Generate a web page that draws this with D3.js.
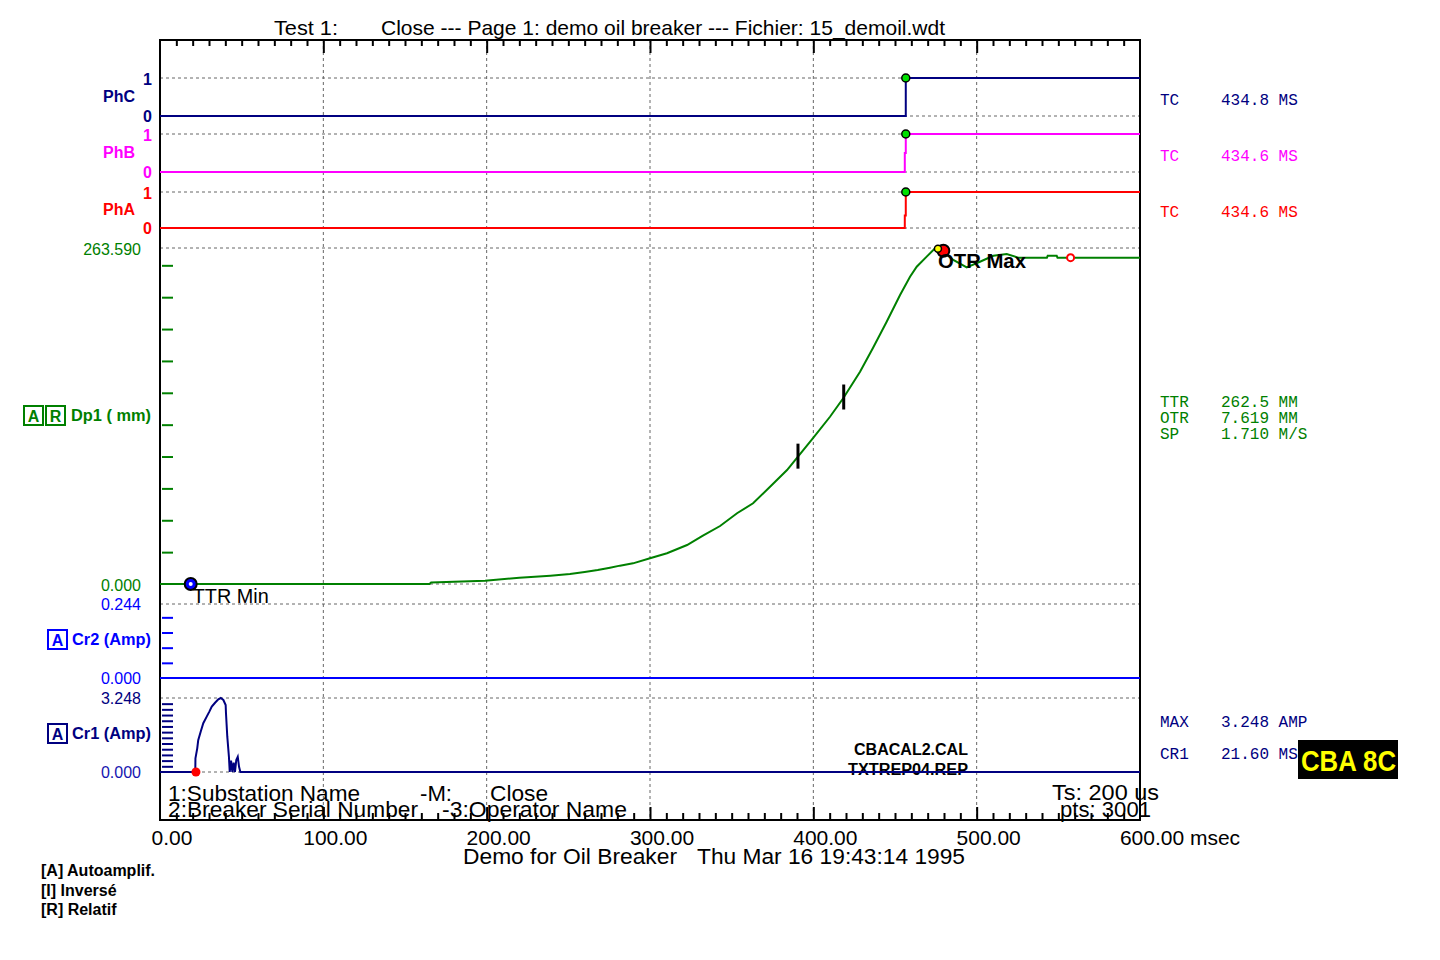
<!DOCTYPE html>
<html>
<head>
<meta charset="utf-8">
<script src="https://cdn.jsdelivr.net/npm/d3@7"></script>
<style>
  body { margin: 0; background: #fff; }
  svg { display: block; }
  text { font-family: "Liberation Sans", Arial, sans-serif; }
  .mono { font-family: "Liberation Mono", "Courier New", monospace; }
</style>
</head>
<body>
<svg id="chart" width="1440" height="960"></svg>
<script>
// Oil breaker close test - timing chart

// ---- data (time in ms) ----
const xTickValues = [0, 100, 200, 300, 400, 500, 600];
const xTickLabels = ['0.00', '100.00', '200.00', '300.00', '400.00', '500.00', '600.00'];

// contact states (0 open, 1 closed)
const phcSteps = [[0, 0], [456.6, 1], [600, 1]];
const phbSteps = [[0, 0], [456.0, 0.5], [456.6, 1], [600, 1]];
const phaSteps = [[0, 0], [456.0, 0.35], [456.6, 1], [600, 1]];

// travel Dp1 (mm)
const dp1Max = 263.59;
const dp1Points = [
  [0, 0], [165, 0], [166, 1.2], [199, 2.6], [220, 4.9], [239, 6.5], [251, 7.8],
  [260, 9.4], [268, 11.0], [275.5, 12.8], [281.6, 14.4], [289.6, 16.2], [300, 20.2],
  [310.4, 24.1], [322.7, 30.6], [332.4, 37.9], [342.9, 45.5], [353.3, 55.5],
  [363.1, 63.3], [373.5, 76.3], [383.9, 89.4], [390.6, 99.9], [399.8, 114.5],
  [410.2, 131.2], [418.3, 145.7], [428.6, 166.5], [436.5, 185.1], [444.9, 205.8],
  [453.1, 226.7], [459.2, 241.1], [463.3, 248.9], [469.4, 256.8], [474.5, 263.4],
  [477.6, 262.8], [485.7, 254.2], [493.9, 248.4], [502, 252.8], [510.2, 257.5],
  [518.4, 258.9], [525.5, 256.0], [543, 256.0], [543.5, 257.5], [549, 257.5],
  [549.5, 256.0], [600, 256.0]
];
const dp1Ticks = [25, 50, 75, 100, 125, 150, 175, 200, 225, 250];
const speedMarks = [390.6, 418.6];      // black bars on the travel curve
const ttrMinTime = 18.8;
const otrMaxTime = 476.3;
const otrPeakTime = 479.6;
const otrEndTime = 557.5;

// coil currents (A)
const cr2Max = 0.244;
const cr2Points = [[0, 0], [600, 0]];
const cr2Ticks = [0.05, 0.1, 0.15, 0.2];
const cr1Max = 3.248;
const cr1Points = [
  [0, 0], [21.6, 0], [21.7, 0.60], [22.8, 1.04], [23.4, 1.40], [24.9, 1.77],
  [26.5, 2.14], [28.6, 2.43], [30.2, 2.65], [31.7, 2.87], [33.7, 3.04],
  [35.7, 3.19], [37.2, 3.248], [38.8, 3.16], [40.2, 2.94], [40.4, 2.58],
  [41.2, 1.55], [42.2, 0.67], [42.7, 0], [43.5, 0.50], [44.3, 0], [45.1, 0.41],
  [45.9, 0], [46.7, 0.53], [47.6, 0.67], [48.4, 0.23], [49.2, 0], [600, 0]
];
const cr1Ticks = [0.25, 0.5, 0.75, 1, 1.25, 1.5, 1.75, 2, 2.25, 2.5, 2.75, 3];
const cr1Start = 22.0;

// readouts on the right
const readoutNames = ['TC', 'TC', 'TC', 'TTR', 'OTR', 'SP', 'MAX', 'CR1'];
const readoutValues = ['434.8 MS', '434.6 MS', '434.6 MS', '262.5 MM', '7.619 MM', '1.710 M/S', '3.248 AMP', '21.60 MS'];

// ---- layout ----
const svg = d3.select('#chart');
const plot = { left: 160, right: 1140, top: 40, bottom: 820 };
const navy = '#000080', magenta = '#ff00ff', red = '#ff0000', green = '#008000', blue = '#0000ff';
const gridColor = '#666';

const x = d3.scaleLinear().domain([0, 600]).range([plot.left, plot.right]);
const yPhC = d3.scaleLinear().domain([0, 1]).range([116, 78]);
const yPhB = d3.scaleLinear().domain([0, 1]).range([172, 134]);
const yPhA = d3.scaleLinear().domain([0, 1]).range([228, 192]);
const yDp1 = d3.scaleLinear().domain([0, dp1Max]).range([584, 248]);
const yCr2 = d3.scaleLinear().domain([0, cr2Max]).range([678, 604]);
const yCr1 = d3.scaleLinear().domain([0, cr1Max]).range([772, 698]);

// plain text helper; len squeezes/stretches to the width seen on screen
function label(txt, tx, ty, size, opts) {
  const o = opts || {};
  const t = svg.append('text')
    .attr('x', tx).attr('y', ty)
    .attr('font-size', size)
    .attr('font-weight', o.bold ? 'bold' : 'normal')
    .attr('fill', o.color || '#000')
    .attr('text-anchor', o.anchor || 'start')
    .attr('xml:space', 'preserve')
    .text(txt);
  if (o.len) t.attr('textLength', o.len).attr('lengthAdjust', 'spacingAndGlyphs');
  return t;
}

// ---- grid ----
const grid = svg.append('g');
[100, 200, 300, 400, 500].forEach(v => {
  grid.append('line')
    .attr('x1', x(v)).attr('x2', x(v))
    .attr('y1', plot.top).attr('y2', plot.bottom)
    .attr('stroke', gridColor).attr('stroke-width', 1)
    .attr('stroke-dasharray', '3,3');
});
const hLines = [yPhC(1), yPhC(0), yPhB(1), yPhB(0), yPhA(1), yPhA(0),
  yDp1(dp1Max), yDp1(0), yCr2(cr2Max), yCr1(cr1Max), yCr1(0)];
hLines.forEach(y => {
  grid.append('line')
    .attr('x1', plot.left).attr('x2', plot.right)
    .attr('y1', y).attr('y2', y)
    .attr('stroke', gridColor).attr('stroke-width', 1)
    .attr('stroke-dasharray', '3,3');
});

// ---- frame + time ticks ----
function timeTicks(axisFn, y, values, size) {
  svg.append('g')
    .attr('transform', `translate(0,${y})`)
    .call(axisFn(x).tickValues(values).tickSize(size).tickFormat(''))
    .call(g => g.select('.domain').remove())
    .call(g => g.selectAll('line').attr('stroke', '#000').attr('stroke-width', 2));
}
const minorT = d3.range(10, 600, 10).filter(v => v % 100 !== 0);
const majorT = [100, 200, 300, 400, 500];
timeTicks(d3.axisBottom, plot.top, minorT, 6);
timeTicks(d3.axisBottom, plot.top, majorT, 13);
timeTicks(d3.axisTop, plot.bottom, minorT, 7);
timeTicks(d3.axisTop, plot.bottom, majorT, 13);

svg.append('rect')
  .attr('x', plot.left).attr('y', plot.top)
  .attr('width', plot.right - plot.left).attr('height', plot.bottom - plot.top)
  .attr('fill', 'none').attr('stroke', '#000').attr('stroke-width', 2);

// time labels
xTickValues.forEach((v, i) => {
  const t = label(xTickLabels[i], 0, 845, 21);
  const w = t.node().getComputedTextLength();
  t.attr('x', x(v) + 12 - w / 2);
  if (i === xTickValues.length - 1) t.text(xTickLabels[i] + ' msec');
});

// ---- left value ticks ----
function valueTicks(scale, values, color) {
  svg.append('g')
    .attr('transform', `translate(${plot.left + 2},0)`)
    .call(d3.axisRight(scale).tickValues(values).tickSize(11).tickFormat(''))
    .call(g => g.select('.domain').remove())
    .call(g => g.selectAll('line').attr('stroke', color).attr('stroke-width', 2));
}
valueTicks(yDp1, dp1Ticks, green);
valueTicks(yCr2, cr2Ticks, blue);
valueTicks(yCr1, cr1Ticks, navy);

// ---- left labels ----
[[yPhC, 'PhC', navy], [yPhB, 'PhB', magenta], [yPhA, 'PhA', red]].forEach(([s, name, c]) => {
  label(name, 135, (s(0) + s(1)) / 2 + 5, 16, { bold: true, color: c, anchor: 'end' });
  label('1', 152, s(1) + 7, 16, { bold: true, color: c, anchor: 'end' });
  label('0', 152, s(0) + 6, 16, { bold: true, color: c, anchor: 'end' });
});
label('263.590', 141, yDp1(dp1Max) + 7, 16, { color: green, anchor: 'end' });
label('0.000', 141, yDp1(0) + 7, 16, { color: green, anchor: 'end' });
label('0.244', 141, yCr2(cr2Max) + 6, 16, { color: blue, anchor: 'end' });
label('0.000', 141, yCr2(0) + 6, 16, { color: blue, anchor: 'end' });
label('3.248', 141, yCr1(cr1Max) + 6, 16, { color: navy, anchor: 'end' });
label('0.000', 141, yCr1(0) + 6, 16, { color: '#1515b0', anchor: 'end' });

function boxLetter(bx, by, letter, color) {
  svg.append('rect')
    .attr('x', bx).attr('y', by).attr('width', 19).attr('height', 19)
    .attr('fill', 'none').attr('stroke', color).attr('stroke-width', 2);
  label(letter, bx + 9.5, by + 15.5, 16, { bold: true, color: color, anchor: 'middle' });
}
boxLetter(24, 406, 'A', green);
boxLetter(46, 406, 'R', green);
label('Dp1 ( mm)', 151, 421, 16, { bold: true, color: green, anchor: 'end', len: 80 });
boxLetter(48, 630, 'A', blue);
label('Cr2 (Amp)', 151, 645, 16, { bold: true, color: blue, anchor: 'end', len: 79 });
boxLetter(48, 724, 'A', navy);
label('Cr1 (Amp)', 151, 739, 16, { bold: true, color: navy, anchor: 'end', len: 79 });

// ---- header / footer texts ----
label('Test 1:', 274, 35, 21, { len: 64 });
label('Close --- Page 1: demo oil breaker --- Fichier: 15_demoil.wdt', 381, 35, 21, { len: 564 });

const footer = [
  ['1:Substation Name', 168, 801, 192], ['-M:', 420, 801, 32], ['Close', 490, 801, 58],
  ['2:Breaker Serial Number', 168, 817, 250], ['-3:Operator Name', 442, 817, 185],
  ['Ts: 200 us', 1052, 800, 107], ['pts: 3001', 1060, 817, 91]
];
footer.forEach(([t, fx, fy, w]) => label(t, fx, fy, 22, { len: w }));
label('Demo for Oil Breaker', 463, 864, 22, { len: 214 });
label('Thu Mar 16 19:43:14 1995', 697, 864, 22, { len: 268 });

label('CBACAL2.CAL', 968, 755, 16, { bold: true, anchor: 'end', len: 114 });
label('TXTREP04.REP', 968, 775, 16, { bold: true, anchor: 'end', len: 120 });

['[A] Autoamplif.', '[I] Inversé', '[R] Relatif'].forEach((t, i) => {
  label(t, 41, 876 + i * 19.5, 16, { bold: true });
});

// ---- right readouts ----
const readoutY = [105, 161, 217, 407, 423, 439, 727, 759];
const readoutColors = [navy, magenta, red, green, green, green, navy, navy];
readoutNames.forEach((n, i) => {
  label(n, 1160, readoutY[i], 16, { color: readoutColors[i] }).attr('class', 'mono');
  label(readoutValues[i], 1221, readoutY[i], 16, { color: readoutColors[i] }).attr('class', 'mono');
});

svg.append('rect').attr('x', 1298).attr('y', 740).attr('width', 100).attr('height', 39).attr('fill', '#000');
label('CBA 8C', 1301, 771, 29, { bold: true, color: '#ffff00', len: 95 });

// ---- traces ----
function trace(points, yScale, color, curve) {
  const line = d3.line().x(d => x(d[0])).y(d => yScale(d[1])).curve(curve || d3.curveLinear);
  svg.append('path')
    .attr('d', line(points))
    .attr('fill', 'none')
    .attr('stroke', color)
    .attr('stroke-width', 2);
}
trace(phcSteps, yPhC, navy, d3.curveStepAfter);
trace(phbSteps, yPhB, magenta, d3.curveStepAfter);
trace(phaSteps, yPhA, red, d3.curveStepAfter);
trace(dp1Points, yDp1, green);
trace(cr2Points, yCr2, blue);
trace(cr1Points, yCr1, navy);

// closing points on contacts
[[phcSteps, yPhC], [phbSteps, yPhB], [phaSteps, yPhA]].forEach(([pts, s]) => {
  const t = pts.find(d => d[1] === 1)[0];
  svg.append('circle').attr('cx', x(t)).attr('cy', s(1)).attr('r', 4)
    .attr('fill', '#00e000').attr('stroke', '#000').attr('stroke-width', 1.5);
});

// travel markers
const dp1At = t => {
  const i = d3.bisector(d => d[0]).left(dp1Points, t);
  const a = dp1Points[Math.max(0, i - 1)], b = dp1Points[i];
  return a[1] + (b[1] - a[1]) * (t - a[0]) / ((b[0] - a[0]) || 1);
};
speedMarks.forEach(t => {
  svg.append('line')
    .attr('x1', x(t)).attr('x2', x(t))
    .attr('y1', yDp1(dp1At(t)) - 13).attr('y2', yDp1(dp1At(t)) + 12)
    .attr('stroke', '#000').attr('stroke-width', 3);
});

svg.append('circle').attr('cx', x(ttrMinTime)).attr('cy', yDp1(0)).attr('r', 6)
  .attr('fill', blue).attr('stroke', '#000').attr('stroke-width', 2);
svg.append('circle').attr('cx', x(ttrMinTime)).attr('cy', yDp1(0)).attr('r', 2)
  .attr('fill', '#fff');
label('TTR Min', x(ttrMinTime) + 2, yDp1(0) + 19, 20, { len: 76 });

svg.append('circle').attr('cx', x(otrPeakTime)).attr('cy', yDp1(dp1At(otrPeakTime)) - 1).attr('r', 6)
  .attr('fill', red).attr('stroke', '#000').attr('stroke-width', 2);
svg.append('circle').attr('cx', x(otrMaxTime)).attr('cy', yDp1(dp1At(otrMaxTime))).attr('r', 3.5)
  .attr('fill', '#ffff00').attr('stroke', '#000').attr('stroke-width', 1.5);
label('OTR Max', x(otrMaxTime), 268, 20, { bold: true, len: 88 });
svg.append('circle').attr('cx', x(otrEndTime)).attr('cy', yDp1(dp1At(otrEndTime))).attr('r', 3.5)
  .attr('fill', '#fff').attr('stroke', red).attr('stroke-width', 2);

// start of coil current
svg.append('circle').attr('cx', x(cr1Start)).attr('cy', yCr1(0)).attr('r', 4.5).attr('fill', red);
</script>
</body>
</html>
